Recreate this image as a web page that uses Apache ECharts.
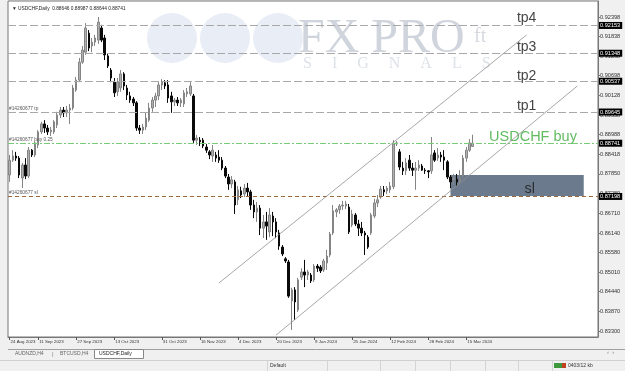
<!DOCTYPE html>
<html><head><meta charset="utf-8">
<script src="https://cdn.jsdelivr.net/npm/echarts@6/dist/echarts.min.js"></script>
<style>html,body{margin:0;padding:0;background:#f0f0f0;overflow:hidden}#c{width:625px;height:371px}</style>
</head><body><div id="c"></div>
<script>
const symbolName = 'USDCHF,Daily';
const tickLabels = ['24 Aug 2023','11 Sep 2023','27 Sep 2023','13 Oct 2023','31 Oct 2023','16 Nov 2023','4 Dec 2023','20 Dec 2023','9 Jan 2024','25 Jan 2024','12 Feb 2024','28 Feb 2024','15 Mar 2024'];
const tickBars = [0, 9, 21, 33, 48, 60, 72, 84, 96, 108, 120, 132, 144];
const emptySlots = 39;
// [open, close, low, high]
const candles = [
[0.8782,0.8825,0.8762,0.8840],[0.8825,0.8837,0.8820,0.8854],[0.8837,0.8831,0.8823,0.8849],[0.8831,0.8782,0.8773,0.8837],
[0.8773,0.8811,0.8744,0.8817],[0.8811,0.8779,0.8770,0.8831],[0.8779,0.8854,0.8773,0.8863],[0.8854,0.8840,0.8834,0.8857],
[0.8840,0.8875,0.8834,0.8880],[0.8869,0.8907,0.8860,0.8912],[0.8907,0.8930,0.8901,0.8936],[0.8930,0.8918,0.8904,0.8941],
[0.8918,0.8907,0.8898,0.8927],[0.8907,0.8912,0.8895,0.8921],[0.8907,0.8936,0.8901,0.8941],[0.8927,0.8956,0.8918,0.8965],
[0.8956,0.8970,0.8947,0.8979],[0.8970,0.8962,0.8950,0.8979],[0.8962,0.8970,0.8950,0.8982],[0.8970,0.8976,0.8930,0.8988],
[0.8976,0.9034,0.8970,0.9043],[0.9028,0.9057,0.9023,0.9066],[0.9057,0.9109,0.9051,0.9121],[0.9109,0.9144,0.9104,0.9156],
[0.9138,0.9208,0.9130,0.9222],[0.9193,0.9150,0.9141,0.9202],[0.9156,0.9167,0.9138,0.9179],[0.9167,0.9179,0.9156,0.9188],
[0.9173,0.9225,0.9162,0.9240],[0.9208,0.9173,0.9167,0.9217],[0.9179,0.9130,0.9115,0.9188],[0.9127,0.9098,0.9092,0.9133],
[0.9086,0.9063,0.9051,0.9092],[0.9051,0.9020,0.9008,0.9063],[0.9023,0.9051,0.9011,0.9063],[0.9034,0.9075,0.9023,0.9086],
[0.9075,0.9040,0.9028,0.9080],[0.9034,0.9014,0.8999,0.9043],[0.9011,0.8999,0.8991,0.9023],[0.9002,0.8991,0.8982,0.9008],
[0.8991,0.8918,0.8910,0.8996],[0.8918,0.8912,0.8901,0.8927],[0.8912,0.8921,0.8901,0.8930],[0.8921,0.8947,0.8912,0.8962],
[0.8941,0.8976,0.8936,0.8991],[0.8976,0.8999,0.8965,0.9008],[0.8999,0.9011,0.8979,0.9020],[0.9011,0.9043,0.8999,0.9051],
[0.9043,0.9051,0.9028,0.9060],[0.9049,0.9040,0.9031,0.9057],[0.9043,0.9005,0.8991,0.9057],[0.9011,0.8994,0.8962,0.9023],
[0.8994,0.8999,0.8982,0.9005],[0.8999,0.8991,0.8982,0.9008],[0.8991,0.8999,0.8979,0.9005],[0.8988,0.9020,0.8979,0.9028],
[0.9017,0.9023,0.9008,0.9034],[0.9017,0.9040,0.9011,0.9051],[0.9011,0.8883,0.8875,0.9017],[0.8883,0.8889,0.8869,0.8898],
[0.8883,0.8878,0.8866,0.8892],[0.8883,0.8866,0.8860,0.8889],[0.8863,0.8854,0.8846,0.8872],[0.8849,0.8840,0.8828,0.8854],
[0.8837,0.8854,0.8820,0.8869],[0.8840,0.8831,0.8820,0.8849],[0.8834,0.8825,0.8817,0.8854],[0.8825,0.8802,0.8796,0.8834],
[0.8802,0.8779,0.8773,0.8808],[0.8776,0.8756,0.8739,0.8785],[0.8756,0.8768,0.8744,0.8779],[0.8762,0.8695,0.8669,0.8768],
[0.8710,0.8739,0.8695,0.8750],[0.8736,0.8724,0.8715,0.8748],[0.8727,0.8744,0.8718,0.8756],[0.8744,0.8733,0.8721,0.8759],
[0.8733,0.8695,0.8681,0.8739],[0.8695,0.8675,0.8657,0.8710],[0.8675,0.8686,0.8646,0.8704],[0.8686,0.8628,0.8608,0.8695],
[0.8628,0.8646,0.8599,0.8666],[0.8646,0.8634,0.8594,0.8675],[0.8617,0.8666,0.8602,0.8686],[0.8663,0.8646,0.8605,0.8675],
[0.8646,0.8617,0.8599,0.8657],[0.8614,0.8576,0.8565,0.8623],[0.8573,0.8553,0.8547,0.8579],[0.8539,0.8533,0.8527,0.8544],
[0.8530,0.8431,0.8426,0.8536],[0.8417,0.8449,0.8333,0.8455],[0.8449,0.8414,0.8362,0.8457],[0.8391,0.8478,0.8385,0.8484],
[0.8486,0.8501,0.8478,0.8512],[0.8501,0.8492,0.8457,0.8536],[0.8492,0.8501,0.8478,0.8507],[0.8492,0.8475,0.8469,0.8498],
[0.8478,0.8518,0.8472,0.8524],[0.8518,0.8512,0.8501,0.8524],[0.8515,0.8504,0.8498,0.8521],[0.8507,0.8533,0.8501,0.8539],
[0.8527,0.8547,0.8507,0.8565],[0.8550,0.8611,0.8544,0.8617],[0.8614,0.8678,0.8608,0.8695],[0.8675,0.8681,0.8660,0.8686],
[0.8681,0.8692,0.8669,0.8698],[0.8692,0.8695,0.8681,0.8707],[0.8692,0.8698,0.8683,0.8707],[0.8689,0.8617,0.8611,0.8698],
[0.8637,0.8669,0.8631,0.8681],[0.8666,0.8640,0.8634,0.8672],[0.8640,0.8628,0.8605,0.8652],[0.8628,0.8614,0.8605,0.8646],
[0.8614,0.8608,0.8550,0.8620],[0.8602,0.8573,0.8568,0.8608],[0.8614,0.8666,0.8608,0.8672],[0.8663,0.8701,0.8657,0.8713],
[0.8701,0.8710,0.8689,0.8724],[0.8718,0.8741,0.8713,0.8750],[0.8739,0.8733,0.8721,0.8750],[0.8736,0.8744,0.8727,0.8750],
[0.8739,0.8750,0.8730,0.8762],[0.8748,0.8872,0.8741,0.8883],[0.8872,0.8875,0.8866,0.8880],[0.8849,0.8805,0.8796,0.8857],
[0.8802,0.8794,0.8782,0.8820],[0.8794,0.8817,0.8782,0.8831],[0.8825,0.8802,0.8794,0.8840],[0.8802,0.8796,0.8779,0.8817],
[0.8796,0.8802,0.8739,0.8820],[0.8802,0.8811,0.8794,0.8825],[0.8808,0.8796,0.8794,0.8814],[0.8796,0.8794,0.8785,0.8802],
[0.8794,0.8791,0.8773,0.8796],[0.8794,0.8840,0.8785,0.8892],[0.8846,0.8825,0.8820,0.8854],[0.8831,0.8840,0.8823,0.8860],
[0.8840,0.8834,0.8820,0.8849],[0.8834,0.8825,0.8796,0.8854],[0.8820,0.8776,0.8770,0.8825],[0.8776,0.8762,0.8744,0.8782],
[0.8768,0.8773,0.8753,0.8785],[0.8770,0.8762,0.8750,0.8785],[0.8762,0.8773,0.8756,0.8796],[0.8779,0.8831,0.8773,0.8840],
[0.8831,0.8854,0.8820,0.8863],[0.8854,0.8875,0.8849,0.8886],[0.88646,0.88741,0.88644,0.88987]
];
const priceTicks = [0.83300,0.83870,0.84440,0.85010,0.85580,0.86140,0.86710,0.87280,0.87850,0.88418,0.88988,0.89558,0.90128,0.90698,0.91268,0.91838,0.92398];
const yMin = 0.83125, yMax = 0.92862;
const tpNames = ['tp4','tp3','tp2','tp1'];
const tpPrices = [0.92153, 0.91348, 0.90537, 0.89645];
const buyPrice = 0.88741;
const slPrice = 0.87198;
const orderTag = '#14260677';
// text annotations: [bar index, price]
const tpNotePos = [[163.1,0.9237],[163.1,0.9153],[163.1,0.9069],[163.1,0.8982]];
const buyNote = [165.3, 0.8892, 'USDCHF buy'];
const slNote = [164.2, 0.8741, 'sl'];
const channelUpper = [[65.7, 0.8469], [163.4, 0.9188]];
const channelLower = [[84.3, 0.8318], [178.6, 0.9040]];
const slZone = [[139.2, 0.8782], [181.4, 0.8721]];

const N = candles.length + emptySlots;
const categories = Array.from({length: N}, (_, i) => String(i));
const labelAt = {};
tickBars.forEach((b, k) => { labelAt[b] = tickLabels[k]; });
const last = candles[candles.length - 1];
const FONT = 'Liberation Sans';

const chart = echarts.init(document.getElementById('c'), null, {renderer: 'canvas'});

const priceBox = price => ({show: true, position: 'end', formatter: price.toFixed(5), backgroundColor: '#000', color: '#fff',
  fontSize: 5.6, fontFamily: FONT, padding: [1, 2, 0, 1], distance: 1});
const tagLabel = txt => ({show: true, position: 'insideStartTop', formatter: txt, fontSize: 4.8, color: '#555', fontFamily: FONT, distance: 1});
const hidden = {color: 'rgba(0,0,0,0)', width: 0};

const markLines = [];
tpPrices.forEach(p => markLines.push({yAxis: p, lineStyle: {color: '#a8a8a8', type: [8, 3], width: 1}, label: priceBox(p)}));
markLines.push({yAxis: tpPrices[3], lineStyle: hidden, label: tagLabel(orderTag + ' tp')});
markLines.push({yAxis: buyPrice, lineStyle: {color: '#78cc78', type: [6, 2, 2, 2], width: 1}, label: priceBox(buyPrice)});
markLines.push({yAxis: buyPrice, lineStyle: hidden, label: tagLabel(orderTag + ' buy 0.25')});
markLines.push({yAxis: slPrice, lineStyle: {color: '#9c6a3a', type: [4, 3], width: 1}, label: priceBox(slPrice)});
markLines.push({yAxis: slPrice, lineStyle: hidden, label: tagLabel(orderTag + ' sl')});
[channelUpper, channelLower].forEach(ch => markLines.push([
  {coord: ch[0], lineStyle: {color: '#909090', width: 0.8, type: 'solid'}, label: {show: false}},
  {coord: ch[1]}
]));

const option = {
  animation: false,
  backgroundColor: '#f0f0f0',
  title: {text: '\u25BC ' + symbolName + '  ' + [last[0], last[3], last[2], last[1]].map(v => v.toFixed(5)).join(' '),
    left: 7, top: 1, textStyle: {fontSize: 4.8, fontWeight: 'normal', color: '#222', fontFamily: FONT}},
  grid: {left: 8, right: 27, top: 1, bottom: 34, show: true, backgroundColor: '#fff', borderColor: '#777', borderWidth: 1},
  xAxis: {
    type: 'category', data: categories, boundaryGap: true,
    axisLine: {show: true, lineStyle: {color: '#777'}},
    axisTick: {show: true, alignWithLabel: true, interval: i => labelAt[i] !== undefined, length: 3, lineStyle: {color: '#555'}},
    axisLabel: {show: true, interval: i => labelAt[i] !== undefined, formatter: (v, i) => labelAt[i] || '',
      align: 'left', fontSize: 4.4, color: '#333', fontFamily: FONT, margin: 3, padding: [0, 0, 0, 1]},
    splitLine: {show: false}
  },
  yAxis: {
    type: 'value', position: 'right', min: yMin, max: yMax, scale: true,
    axisLine: {show: true, lineStyle: {color: '#777'}},
    axisTick: {show: true, customValues: priceTicks, length: 2, lineStyle: {color: '#777'}},
    axisLabel: {show: true, customValues: priceTicks, formatter: v => v.toFixed(5), fontSize: 5.6, color: '#333', fontFamily: FONT, margin: 2},
    splitLine: {show: false}
  },
  graphic: [
    {type: 'circle', shape: {cx: 172, cy: 38, r: 25}, style: {fill: '#e8edf6'}, z: 0, silent: true},
    {type: 'circle', shape: {cx: 225, cy: 38, r: 25}, style: {fill: '#e8edf6'}, z: 0, silent: true},
    {type: 'circle', shape: {cx: 278, cy: 38, r: 25}, style: {fill: '#e8edf6'}, z: 0, silent: true},
    {type: 'text', left: 298, top: 15, style: {text: 'FX PRO', font: '48px "Liberation Serif"', fill: '#d0d4dc'}, z: 0, silent: true},
    {type: 'text', left: 474, top: 27, style: {text: 'ft', font: '20px "Liberation Serif"', fill: '#d6dae0'}, z: 0, silent: true},
    {type: 'text', left: 303, top: 56, style: {text: 'S     I     G     N     A     L     S', font: '16px "Liberation Serif"', fill: '#dde1e8'}, z: 0, silent: true},
    // tab bar
    {type: 'line', shape: {x1: 8, y1: 349.5, x2: 625, y2: 349.5}, style: {stroke: '#a0a0a0', lineWidth: 1}},
    {type: 'text', left: 15, top: 351, style: {text: 'AUDNZD,H4', font: '5px "Liberation Sans"', fill: '#666'}},
    {type: 'text', left: 52, top: 351, style: {text: '|', font: '6px "Liberation Sans"', fill: '#888'}},
    {type: 'text', left: 60, top: 351, style: {text: 'BTCUSD,H4', font: '5px "Liberation Sans"', fill: '#666'}},
    {type: 'rect', shape: {x: 94.5, y: 349.5, width: 49, height: 9}, style: {fill: '#fff', stroke: '#888', lineWidth: 1}},
    {type: 'text', left: 99, top: 351, style: {text: 'USDCHF,Daily', font: '5px "Liberation Sans"', fill: '#222'}},
    {type: 'text', left: 607, top: 349, style: {text: '\u2039  \u203A', font: '6px "Liberation Sans"', fill: '#888'}},
    // status bar
    {type: 'line', shape: {x1: 0, y1: 360.5, x2: 625, y2: 360.5}, style: {stroke: '#d0d0d0', lineWidth: 1}},
    ...[267, 327, 380, 415, 450, 485, 518, 552].map(x => ({type: 'line', shape: {x1: x + 0.5, y1: 361, x2: x + 0.5, y2: 371}, style: {stroke: '#d4d4d4', lineWidth: 1}})),
    {type: 'text', left: 270, top: 363, style: {text: 'Default', font: '5px "Liberation Sans"', fill: '#333'}},
    {type: 'rect', shape: {x: 554, y: 363, width: 12, height: 5}, style: {fill: '#3c9a3c'}},
    {type: 'rect', shape: {x: 562, y: 363, width: 4, height: 5}, style: {fill: '#c04020'}},
    {type: 'text', left: 568, top: 363, style: {text: '0403/12 kb', font: '5px "Liberation Sans"', fill: '#333'}}
  ],
  series: [
    {
      type: 'scatter', z: 2, symbolSize: 0, silent: true,
      data: tpNotePos.map((n, k) => ({value: n, label: {show: true, formatter: tpNames[k], color: '#111', fontSize: 14, fontFamily: FONT, position: 'inside'}}))
        .concat([
          {value: [buyNote[0], buyNote[1]], label: {show: true, formatter: buyNote[2], color: '#3aaa3a', fontSize: 14.5, fontFamily: FONT, position: 'inside'}},
          {value: [slNote[0], slNote[1]], label: {show: true, formatter: slNote[2], color: '#1a1a1a', fontSize: 14.5, fontFamily: FONT, position: 'inside'}}
        ]),
      markArea: {silent: true, itemStyle: {color: '#6b7a8c'}, data: [[{coord: slZone[0]}, {coord: slZone[1]}]]},
      markLine: {silent: true, precision: 5, symbol: ['none', 'none'], data: markLines}
    },
    {
      type: 'candlestick', z: 3, barWidth: 2, data: candles,
      itemStyle: {color: '#b0b0b0', color0: '#0a0a0a', borderColor: '#858585', borderColor0: '#0a0a0a', borderWidth: 1}
    }
  ]
};
chart.setOption(option);
</script>
</body></html>
